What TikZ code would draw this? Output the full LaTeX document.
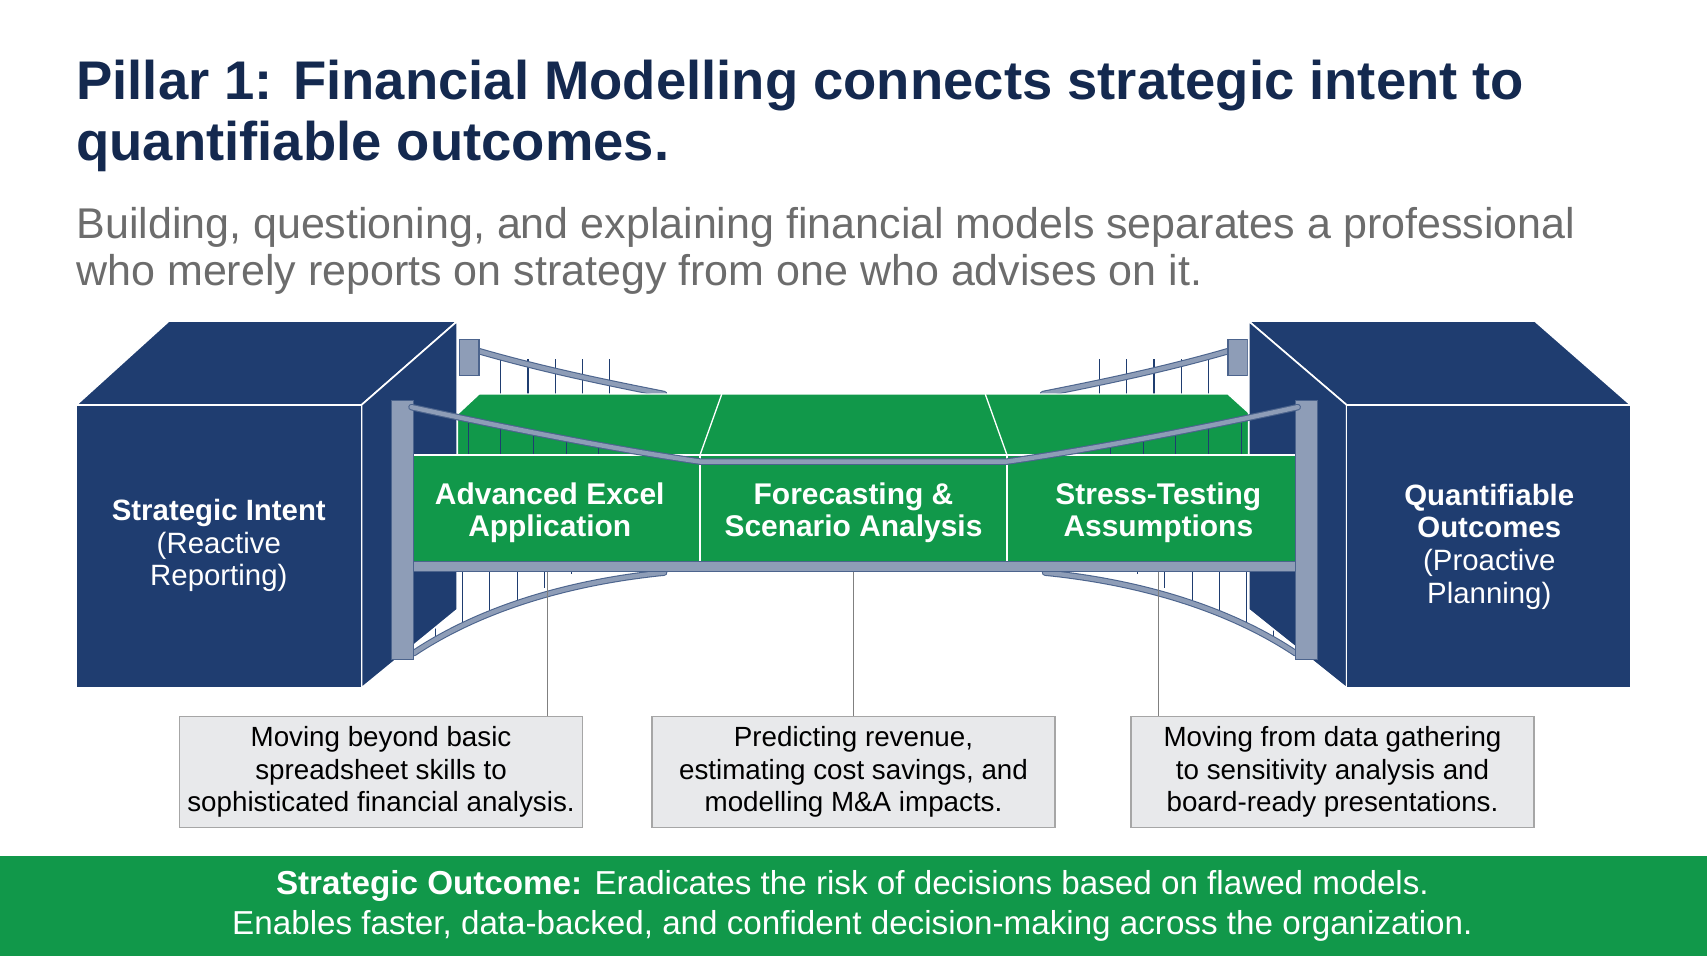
\documentclass[tikz,border=0pt]{standalone}
\usepackage{fontspec}
\setmainfont{Liberation Sans}
\usetikzlibrary{positioning}
\definecolor{navy}{HTML}{1F3D70}
\definecolor{titleblue}{HTML}{14294F}
\definecolor{bridgegreen}{HTML}{11984A}
\definecolor{steel}{HTML}{8E9DB7}
\definecolor{boxgray}{HTML}{E8E9EB}
\begin{document}
\begin{tikzpicture}[x=1pt,y=-1pt,
  block/.style={fill=navy,draw=white,line width=1.5pt,line join=round},
  deck/.style={fill=bridgegreen,draw=white,line width=1.2pt},
  pillar/.style={fill=steel,draw=navy!80,line width=1pt},
  cable/.style={draw=navy!80,line width=6pt,line cap=round},
  cablein/.style={draw=steel,line width=4pt,line cap=round},
  hanger/.style={draw=navy,line width=1pt},
  callout/.style={draw=gray,line width=1pt},
  note/.style={draw=gray!70,fill=boxgray,line width=1.2pt,minimum width=370pt,minimum height=102pt,align=center,font=\fontsize{25.5}{30}\selectfont},
  blocktext/.style={text=white,align=center,font=\fontsize{27}{30}\selectfont},
  decktext/.style={text=white,align=center,font=\bfseries\fontsize{27.5}{30}\selectfont}]
  \useasboundingbox (0,0) rectangle (1568,882);

  % headings
  \node[anchor=north west,text=titleblue,align=left,font=\bfseries\fontsize{50}{56}\selectfont,inner sep=0] (title) at (70,55)
    {Pillar 1: Financial Modelling connects strategic intent to\\quantifiable outcomes.};
  \node[anchor=north west,text=gray!85!black,align=left,font=\fontsize{39.5}{43}\selectfont,inner sep=0] (subtitle) at (70,190)
    {Building, questioning, and explaining financial models separates a professional\\who merely reports on strategy from one who advises on it.};

  % back hangers and back cables
  \foreach \x in {460,485,510,535,560} \draw[hanger] (\x,330) -- (\x,362);
  \foreach \x in {1010,1035,1060,1085,1110} \draw[hanger] (\x,330) -- (\x,362);
  \draw[cable] (438,322) .. controls (500,340) and (560,352) .. (610,362);
  \draw[cablein] (438,322) .. controls (500,340) and (560,352) .. (610,362);
  \draw[cable] (1130,322) .. controls (1068,340) and (1008,352) .. (958,362);
  \draw[cablein] (1130,322) .. controls (1068,340) and (1008,352) .. (958,362);
  \draw[pillar] (422,345) rectangle (440,312);
  \draw[pillar] (1128,345) rectangle (1146,312);

  % road surface
  \draw[deck] (380,418) -- (440,362) -- (1128,362) -- (1190,418) -- cycle;
  \draw[white,line width=1.2pt] (643,418) -- (663,362) (925,418) -- (905,362);
  \foreach \x in {400,430,460,490,520,550,580,610}
    \draw[hanger] (\x,{380+(\x-380)*0.17}) -- (\x,418);
  \foreach \x in {1170,1140,1110,1080,1050,1020,990,960}
    \draw[hanger] (\x,{380+(1190-\x)*0.17}) -- (\x,418);

  % lower arches and hangers
  \foreach \x in {400,425,450,475,500,525} \draw[hanger] (\x,524) -- (\x,{600-(\x-380)*0.5});
  \foreach \x in {1170,1145,1120,1095,1070,1045} \draw[hanger] (\x,524) -- (\x,{600-(1190-\x)*0.5});
  \draw[cable] (380,600) .. controls (440,560) and (520,535) .. (610,526);
  \draw[cablein] (380,600) .. controls (440,560) and (520,535) .. (610,526);
  \draw[cable] (1190,600) .. controls (1130,560) and (1050,535) .. (960,526);
  \draw[cablein] (1190,600) .. controls (1130,560) and (1050,535) .. (960,526);

  % blocks
  \draw[block] (70,372) -- (155,295) -- (420,295) -- (332,372) -- cycle;
  \draw[block] (332,372) -- (420,295) -- (420,560) -- (332,632) -- cycle;
  \draw[block] (70,372) rectangle (332,632);
  \draw[block] (1498,372) -- (1410,295) -- (1147,295) -- (1237,372) -- cycle;
  \draw[block] (1237,372) -- (1147,295) -- (1147,560) -- (1237,632) -- cycle;
  \draw[block] (1237,372) rectangle (1498,632);

  % deck front
  \draw[deck] (368,418) rectangle (643,516);
  \draw[deck] (643,418) rectangle (925,516);
  \draw[deck] (925,418) rectangle (1200,516);
  \draw[pillar] (362,516) rectangle (1208,525);

  % front towers and front cable
  \draw[pillar] (360,368) rectangle (380,606);
  \draw[pillar] (1190,368) rectangle (1210,606);
  \draw[cable] (378,374) .. controls (460,392) and (560,412) .. (643,424) -- (925,424) .. controls (1008,412) and (1110,392) .. (1192,374);
  \draw[cablein] (378,374) .. controls (460,392) and (560,412) .. (643,424) -- (925,424) .. controls (1008,412) and (1110,392) .. (1192,374);

  % labels
  \node[blocktext] (intent) at (201,501) {\textbf{Strategic Intent}\\(Reactive\\Reporting)};
  \node[blocktext] (outcomes) at (1368,502) {\textbf{Quantifiable}\\\textbf{Outcomes}\\(Proactive\\Planning)};
  \node[decktext] (excel) at (505,471) {Advanced Excel\\Application};
  \node[decktext] (forecast) at (784,471) {Forecasting \&\\Scenario Analysis};
  \node[decktext] (stress) at (1064,471) {Stress-Testing\\Assumptions};

  % callouts
  \node[note] (excelnote) at (350,709) {Moving beyond basic\\spreadsheet skills to\\sophisticated financial analysis.};
  \node[note] (forecastnote) at (784,709) {Predicting revenue,\\estimating cost savings, and\\modelling M\&A impacts.};
  \node[note] (stressnote) at (1224,709) {Moving from data gathering\\to sensitivity analysis and\\board-ready presentations.};
  \draw[callout] (503,525) -- (excelnote.north -| 503,0);
  \draw[callout] (forecast |- 0,525) -- (forecastnote.north);
  \draw[callout] (1064,525) -- (stressnote.north -| 1064,0);

  % outcome band
  \fill[bridgegreen] (0,786) rectangle (1568,878);
  \node[text=white,align=center,font=\fontsize{30.5}{37}\selectfont] (band) at (783,832)
    {\textbf{Strategic Outcome:} Eradicates the risk of decisions based on flawed models.\\Enables faster, data-backed, and confident decision-making across the organization.};
\end{tikzpicture}
\end{document}
